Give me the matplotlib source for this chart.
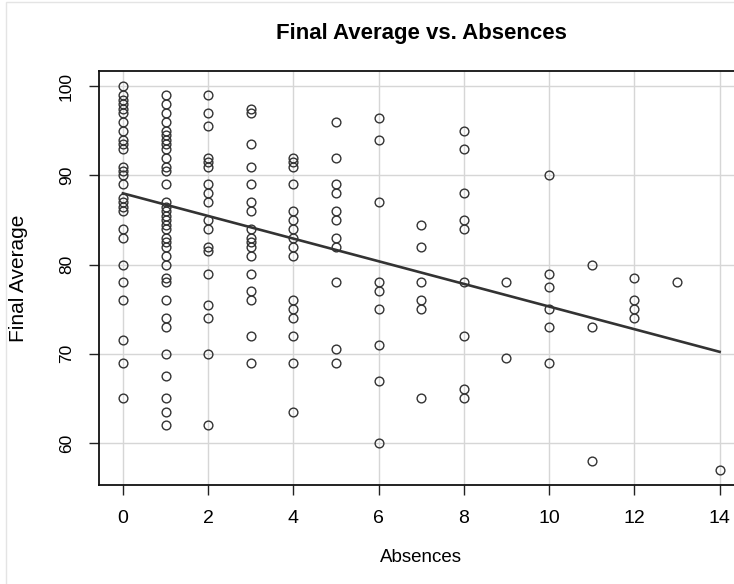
import matplotlib.pyplot as plt
from matplotlib.patches import Rectangle
import numpy as np

plt.rcParams['font.family'] = ['Liberation Sans', 'DejaVu Sans']

# final averages grouped by number of absences
scores_by_absences = {
    0: [100, 99, 98.5, 98, 97.5, 97, 96, 95, 94, 93.5, 93, 91, 90.5, 90, 89,
        87.5, 87, 86.5, 86, 84, 83, 80, 78, 76, 71.5, 69, 65],
    1: [99, 98, 97, 96, 95, 94.5, 94, 93.5, 93, 92, 91, 90.5, 89, 87, 86.5,
        86, 85.5, 85, 84.5, 84, 83, 82.5, 82, 81, 80, 78.5, 78, 76, 74, 73,
        70, 67.5, 65, 63.5, 62],
    2: [99, 97, 95.5, 92, 91.5, 91, 89, 88, 87, 85, 84, 82, 81.5, 79, 75.5,
        74, 70, 62],
    3: [97.5, 97, 93.5, 91, 89, 87, 86, 84, 83, 82.5, 82, 81, 79, 77, 76, 72, 69],
    4: [92, 91.5, 91, 89, 86, 85, 84, 83, 82, 81, 76, 75, 74, 72, 69, 63.5],
    5: [96, 92, 89, 88, 86, 85, 83, 82, 78, 70.5, 69],
    6: [96.5, 94, 87, 78, 77, 75, 71, 67, 60],
    7: [84.5, 82, 78, 76, 75, 65],
    8: [95, 93, 88, 85, 84, 78, 72, 66, 65],
    9: [78, 69.5],
    10: [90, 79, 77.5, 75, 73, 69],
    11: [80, 73, 58],
    12: [78.5, 76, 75, 74],
    13: [78],
    14: [57],
}

# fitted line
fit_intercept = 88.0
fit_slope = -1.27

absences = np.array([k for k, v in scores_by_absences.items() for _ in v], dtype=float)
final_avg = np.array([s for v in scores_by_absences.values() for s in v], dtype=float)

x_ticks = [0, 2, 4, 6, 8, 10, 12, 14]
y_ticks = [60, 70, 80, 90, 100]

fig = plt.figure(figsize=(7.34, 5.84), dpi=100)
ax = fig.add_axes([0.1349, 0.1695, 0.878, 0.7089])

ax.grid(True, color='#d6d6d6', linewidth=1.0)
ax.set_axisbelow(True)

ax.plot(absences, final_avg, 'o', markerfacecolor='none', markeredgecolor='#333333',
        markersize=6.3, markeredgewidth=1.0, zorder=3)

xs = np.array([absences.min(), absences.max()])
ax.plot(xs, fit_intercept + fit_slope * xs, color='#333333', linewidth=1.9, zorder=4)

ax.set_xlim(-0.56, 14.56)
ax.set_ylim(55.28, 101.72)
ax.set_xticks(x_ticks)
ax.set_yticks(y_ticks)
ax.tick_params(axis='both', direction='out', length=7, width=1, color='#222222')
ax.tick_params(axis='x', pad=11, labelsize=14)
ax.tick_params(axis='y', pad=11, labelsize=12.5)
for lab in ax.get_yticklabels():
    lab.set_rotation(90)
    lab.set_va('center')

for sp in ax.spines.values():
    sp.set_linewidth(1.3)
    sp.set_color('#111111')

ax.set_title('Final Average vs. Absences', fontsize=16, fontweight='bold', pad=23)
ax.set_xlabel('Absences', fontsize=13.5, labelpad=16)
ax.set_ylabel('Final Average', fontsize=15, labelpad=22)

# faint outer frame
fig.patches.append(Rectangle((6 / 734, -0.1), 1.2, 1.1 - 2 / 584, transform=fig.transFigure,
                             fill=False, edgecolor='#e4e4e4', linewidth=1.0))

fig.savefig('out.png', dpi=100)
